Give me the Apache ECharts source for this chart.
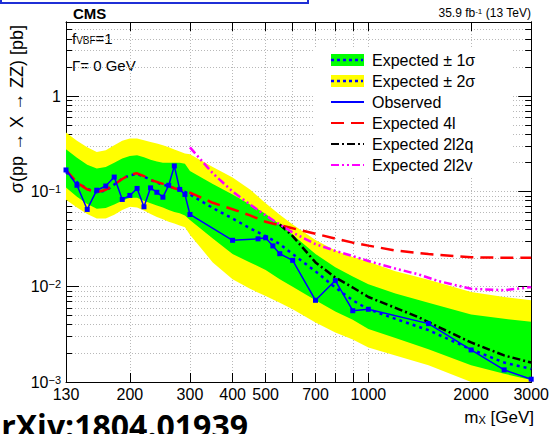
<!DOCTYPE html>
<html><head><meta charset="utf-8">
<script src="https://cdn.jsdelivr.net/npm/echarts@6/dist/echarts.min.js"></script>
<style>html,body{margin:0;padding:0;background:#fff}#c{width:552px;height:434px}</style>
</head><body><div id="c"></div>
<script>
// ---------------- data ----------------
const obsMass = [130,140,150,160,170,180,190,200,210,220,230,240,250,260,270,280,290,300,400,475,500,525,550,600,700,800,900,1000,1500,2000,2500,3000];
const obsVal  = [0.168,0.116,0.0647,0.103,0.114,0.1415,0.0824,0.0908,0.1075,0.069,0.109,0.098,0.087,0.116,0.185,0.105,0.093,0.0573,0.0307,0.0318,0.0326,0.0268,0.0222,0.0189,0.0072,0.0116,0.0056,0.0058,0.0041,0.00217,0.00134,0.00107];

const bandMass = [130,140,150,160,170,180,190,200,210,220,230,240,250,260,270,280,290,300,350,400,450,500,550,600,700,800,900,1000,1200,1500,2000,2500,3000];
const band2Lo = [0.082,0.068,0.058,0.052,0.052,0.057,0.064,0.069,0.068,0.063,0.058,0.054,0.051,0.048,0.046,0.044,0.042,0.035,0.018,0.012,0.0095,0.008,0.0068,0.0058,0.0042,0.0033,0.0028,0.0023,0.0019,0.0015,0.001,0.00085,0.00075];
const band1Lo = [0.11,0.088,0.074,0.066,0.067,0.073,0.08,0.086,0.086,0.08,0.075,0.071,0.068,0.064,0.061,0.059,0.056,0.05,0.032,0.022,0.018,0.015,0.012,0.01,0.0072,0.0055,0.0045,0.0036,0.0029,0.0022,0.0015,0.00122,0.00105];
const expMed  = [0.16,0.125,0.106,0.098,0.102,0.118,0.136,0.148,0.152,0.143,0.132,0.124,0.118,0.113,0.108,0.104,0.099,0.093,0.067,0.052,0.041,0.034,0.028,0.022,0.0145,0.0098,0.0072,0.0058,0.0046,0.0035,0.0022,0.0016,0.00137];
const band1Hi = [0.277,0.225,0.19,0.174,0.18,0.2,0.222,0.236,0.24,0.228,0.215,0.206,0.2,0.2,0.2,0.2,0.195,0.164,0.12,0.093,0.073,0.058,0.045,0.035,0.022,0.016,0.0128,0.0106,0.0085,0.0068,0.0051,0.0046,0.0043];
const band2Hi = [0.415,0.34,0.29,0.26,0.27,0.305,0.34,0.359,0.36,0.345,0.33,0.318,0.305,0.29,0.275,0.262,0.25,0.245,0.18,0.14,0.105,0.075,0.057,0.045,0.031,0.024,0.0205,0.0183,0.0145,0.0118,0.0088,0.0078,0.0072];

const exp4lMass = [130,140,150,160,170,180,190,200,210,220,230,250,270,300,350,400,450,500,600,700,800,900,1000,1200,1500,2000,2500,3000];
const exp4lVal  = [0.168,0.124,0.105,0.098,0.104,0.118,0.135,0.15,0.155,0.145,0.132,0.12,0.108,0.097,0.076,0.065,0.056,0.048,0.041,0.036,0.032,0.029,0.027,0.024,0.022,0.0204,0.0201,0.0201];

const exp2l2qMass = [550,600,700,800,900,1000,1200,1400,1600,2000,2500,3000];
const exp2l2qVal  = [0.045,0.034,0.018,0.0125,0.0098,0.0078,0.006,0.0048,0.0038,0.0026,0.0019,0.0016];

const exp2l2vMass = [300,350,400,450,500,550,600,700,800,900,1000,1200,1400,1600,2000,2500,3000];
const exp2l2vVal  = [0.29,0.155,0.10,0.073,0.056,0.045,0.037,0.028,0.0238,0.021,0.0186,0.0155,0.0135,0.0115,0.0095,0.0092,0.0099];

const xLabelValues = [130,200,300,400,500,700,1000,2000,3000];
const xTickValues  = [200,300,400,500,600,700,800,900,1000,2000,3000];
const yDecadeValues = [0.001,0.01,0.1,1];
const xMin = 130, xMax = 3000, yMin = 0.001, yMax = 6;

// ---------------- helpers ----------------
const FONT = '"Liberation Sans", Arial, Helvetica, sans-serif';
const OFF = 4; // log offset
const lx = m => Math.log10(m);
const ly = v => Math.log10(v) + OFF;
const pts = (ms, vs) => ms.map((m, i) => [lx(m), ly(vs[i])]);
const yMinor = [];
yDecadeValues.forEach(d => { for (let k = 2; k <= 9; k++) { const v = ly(d * k); if (v < ly(yMax)) yMinor.push(v); } });

const chart = echarts.init(document.getElementById('c'), null, {renderer: 'svg'});

const gridLine = {show: true, lineStyle: {color: '#b8b8b8', width: 1, type: [1, 2]}};
const blackLine = {show: true, onZero: false, lineStyle: {color: '#000', width: 1}};

function xAx(pos, labels) {
  return {
    type: 'value', min: lx(xMin), max: lx(xMax), position: pos,
    axisLine: blackLine,
    axisTick: {show: true, inside: true, length: 9, customValues: xTickValues.map(lx), lineStyle: {color: '#000'}},
    axisLabel: labels ? {show: true, customValues: xLabelValues.map(lx), formatter: v => String(Math.round(Math.pow(10, v))),
      fontSize: 16, color: '#000', fontFamily: FONT, margin: 4} : {show: false},
    splitLine: labels ? gridLine : {show: false}
  };
}
function yAx(pos, major, labels) {
  const ticks = major ? yDecadeValues.map(ly) : yMinor;
  return {
    type: 'value', min: ly(yMin), max: ly(yMax), position: pos,
    axisLine: blackLine,
    axisTick: {show: true, inside: true, length: major ? 13 : 6, customValues: ticks, lineStyle: {color: '#000'}},
    axisLabel: labels ? {show: true, customValues: yDecadeValues.map(ly), margin: 5, color: '#000', fontFamily: FONT,
      formatter: v => { const e = Math.round(v - OFF); return e === 0 ? '{c|1}' : '{b|10}{s|−' + (-e) + '}'; },
      rich: {
        b: {fontSize: 16, lineHeight: 16, padding: [6, 0, 0, 0], verticalAlign: 'bottom', fontFamily: FONT, color: '#000'},
        s: {fontSize: 11, lineHeight: 11, verticalAlign: 'top', fontFamily: FONT, color: '#000'},
        c: {fontSize: 16, fontFamily: FONT, color: '#000'}
      }} : {show: false},
    splitLine: (pos === 'left') ? gridLine : {show: false}
  };
}

const line = (name, ms, vs, color, width, type, extra) => Object.assign({
  name, type: 'line', data: pts(ms, vs), showSymbol: false, symbol: 'none',
  lineStyle: {color, width, type}, itemStyle: {color}, z: 5, clip: true, animation: false
}, extra || {});

// band drawn as one polygon through the axis scales (api.coord)
function band(name, loArr, hiArr, color, z) {
  return {
    name, type: 'custom', z, animation: false, itemStyle: {color},
    data: bandMass.map((m, i) => [lx(m), ly(loArr[i]), ly(hiArr[i])]),
    encode: {x: 0, y: [1, 2]},
    renderItem: function (params, api) {
      if (params.dataIndex !== 0) return null;
      const n = bandMass.length, up = [], dn = [];
      for (let i = 0; i < n; i++) {
        up.push(api.coord([api.value(0, i), api.value(2, i)]));
        dn.unshift(api.coord([api.value(0, i), api.value(1, i)]));
      }
      const cs = params.coordSys;
      return {type: 'polygon', shape: {points: up.concat(dn)}, style: {fill: color, stroke: null},
        clipPath: {type: 'rect', shape: {x: cs.x, y: cs.y, width: cs.width, height: cs.height}}};
    }
  };
}

const series = [
  band('Expected ± 2σ', band2Lo, band2Hi, '#ffff00', 1),
  band('Expected ± 1σ', band1Lo, band1Hi, '#00ff00', 2),
  line('Expected median', bandMass, expMed, '#0000ff', 2.5, [3, 4]),
  line('Expected 4l', exp4lMass, exp4lVal, '#ff0000', 2.5, [13, 7]),
  line('Expected 2l2q', exp2l2qMass, exp2l2qVal, '#000000', 2.5, [8, 3, 2, 3]),
  line('Expected 2l2v', exp2l2vMass, exp2l2vVal, '#ff00ff', 2.5, [8, 3, 2, 3, 2, 3]),
  line('Observed', obsMass, obsVal, '#0000ff', 1.5, 'solid', {symbol: 'rect', symbolSize: 5, showSymbol: true, z: 6})
];

const legendTop = 48, legendPadTop = 4, itemH = 16, itemGap = 5;
const rowCenter = i => legendTop + legendPadTop + i * (itemH + itemGap) + itemH / 2;

chart.setOption({
  animation: false,
  grid: {left: 66, right: 18, top: 22, bottom: 52, containLabel: false},
  xAxis: [xAx('bottom', true), xAx('top', false)],
  yAxis: [yAx('left', true, true), yAx('left', false, false), yAx('right', true, false), yAx('right', false, false)],
  legend: {
    orient: 'vertical', left: 313, top: legendTop, backgroundColor: '#fff',
    padding: [legendPadTop, 37, 4, 17], itemWidth: 33, itemHeight: 12, itemGap: itemGap, selectedMode: false,
    textStyle: {fontSize: 16, lineHeight: 16, color: '#000', fontFamily: FONT, padding: [0, 0, 0, 3]},
    data: [
      {name: 'Expected ± 1σ', icon: 'rect', itemStyle: {color: '#00ff00'}},
      {name: 'Expected ± 2σ', icon: 'rect', itemStyle: {color: '#ffff00'}},
      {name: 'Observed', itemStyle: {opacity: 0}},
      {name: 'Expected 4l', itemStyle: {opacity: 0}},
      {name: 'Expected 2l2q', itemStyle: {opacity: 0}},
      {name: 'Expected 2l2v', itemStyle: {opacity: 0}}
    ]
  },
  graphic: [
    {type: 'rect', shape: {x: 1, y: -20, width: 307, height: 23}, style: {fill: 'none', stroke: '#1f2fd6', lineWidth: 2}},
    {type: 'text', x: 73, y: 13, style: {text: 'CMS', font: 'bold 15px ' + FONT, fill: '#000', textVerticalAlign: 'middle'}},
    {type: 'text', x: 531, y: 13, style: {text: '35.9 fb{s|-1} (13 TeV)', font: '12px ' + FONT, fill: '#000', textAlign: 'right', textVerticalAlign: 'middle',
      rich: {s: {fontSize: 8, lineHeight: 8, verticalAlign: 'top', fontFamily: FONT, fill: '#000'}}}},
    {type: 'text', x: 72, y: 38, style: {text: '{a|f}{s|VBF}{a|=1}', fill: '#000', textVerticalAlign: 'middle',
      rich: {a: {fontSize: 15, lineHeight: 15, padding: [0, 0, 3, 0], verticalAlign: 'top', fontFamily: FONT, fill: '#000'},
             s: {fontSize: 10, lineHeight: 10, verticalAlign: 'bottom', fontFamily: FONT, fill: '#000'}}}},
    {type: 'text', x: 72, y: 65, style: {text: 'Γ= 0 GeV', font: '15px ' + FONT, fill: '#000', textVerticalAlign: 'middle'}},
    {type: 'text', x: 17, y: 25, rotation: Math.PI / 2, style: {text: 'σ(pp → X → ZZ) [pb]', font: '18px ' + FONT, fill: '#000', textAlign: 'right', textVerticalAlign: 'middle'}},
    {type: 'text', x: 534, y: 417, style: {text: '{a|m}{s|X}{a| [GeV]}', fill: '#000', textAlign: 'right', textVerticalAlign: 'middle',
      rich: {a: {fontSize: 17, lineHeight: 17, padding: [0, 0, 4, 0], verticalAlign: 'top', fontFamily: FONT, fill: '#000'},
             s: {fontSize: 11, lineHeight: 11, verticalAlign: 'bottom', fontFamily: FONT, fill: '#000'}}}},
    {type: 'text', x: 248, y: 441, style: {text: 'arXiv:1804.01939', font: 'bold 32px "Open Sans", "Noto Sans", sans-serif', fill: '#000', textAlign: 'right', textVerticalAlign: 'bottom'}},
    {type: 'line', z: 100, shape: {x1: 331, y1: rowCenter(0), x2: 363, y2: rowCenter(0)}, style: {stroke: '#0000ff', lineWidth: 2.5, lineDash: [3, 3]}},
    {type: 'line', z: 100, shape: {x1: 331, y1: rowCenter(1), x2: 363, y2: rowCenter(1)}, style: {stroke: '#0000ff', lineWidth: 2.5, lineDash: [3, 3]}}
  ],
  series: series
});
</script></body></html>
